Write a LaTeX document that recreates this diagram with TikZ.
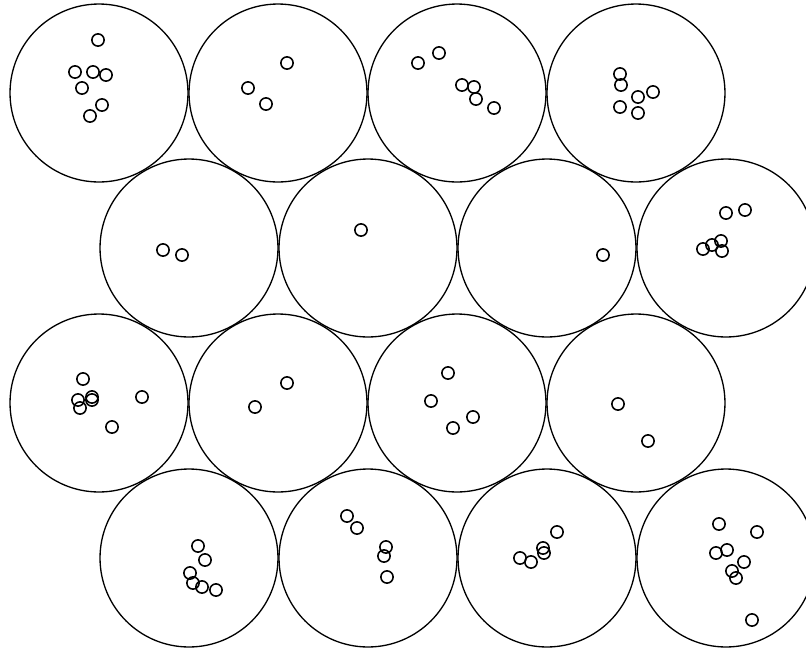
\documentclass[tikz,border=0pt]{standalone}
\usepackage{tikz}
\usetikzlibrary{positioning}

\begin{document}
\begin{tikzpicture}[x=0.02cm, y=-0.02cm,
    cell/.style={circle, draw, line width=0.75pt, inner sep=0pt, minimum size=3.56cm},
    pt/.style={circle, draw, line width=0.9pt, inner sep=0pt, minimum size=0.245cm}]
    \useasboundingbox (0,0) rectangle (806,650);

    % the cells, four rows, shifted every other row
    \foreach \r/\y in {1/93,3/403} {
        \foreach \c/\x in {1/99,2/278,3/457,4/636}
            \node[cell] (b\r\c) at (\x,\y) {};
    }
    \foreach \r/\y in {2/248,4/558} {
        \foreach \c/\x in {1/189,2/368,3/547,4/726}
            \node[cell] (b\r\c) at (\x,\y) {};
    }

    % points in row 1
    \foreach \x/\y [count=\k] in {98/40,75/72,93/72,106/75,82/88,102/105,90/116,
        287/63,248/88,266/104,
        418/63,439/53,462/85,474/87,476/99,494/108,
        620/74,621/85,653/92,638/97,620/107,638/113}
        \node[pt] (p1-\k) at (\x,\y) {};

    % points in row 2
    \foreach \x/\y [count=\k] in {163/250,182/255,
        361/230,
        603/255,
        726/213,745/210,703/249,712/245,721/241,722/251}
        \node[pt] (p2-\k) at (\x,\y) {};

    % points in row 3
    \foreach \x/\y [count=\k] in {83/379,78/400,80/408,92/397,92/400,142/397,112/427,
        287/383,255/407,
        448/373,431/401,473/417,453/428,
        618/404,648/441}
        \node[pt] (p3-\k) at (\x,\y) {};

    % points in row 4
    \foreach \x/\y [count=\k] in {198/546,205/560,190/573,193/583,202/587,216/590,
        347/516,357/528,386/547,384/556,387/577,
        557/532,543/548,544/553,520/558,531/562,
        719/524,757/532,716/553,727/550,744/562,732/571,736/578,752/620}
        \node[pt] (p4-\k) at (\x,\y) {};
\end{tikzpicture}
\end{document}
